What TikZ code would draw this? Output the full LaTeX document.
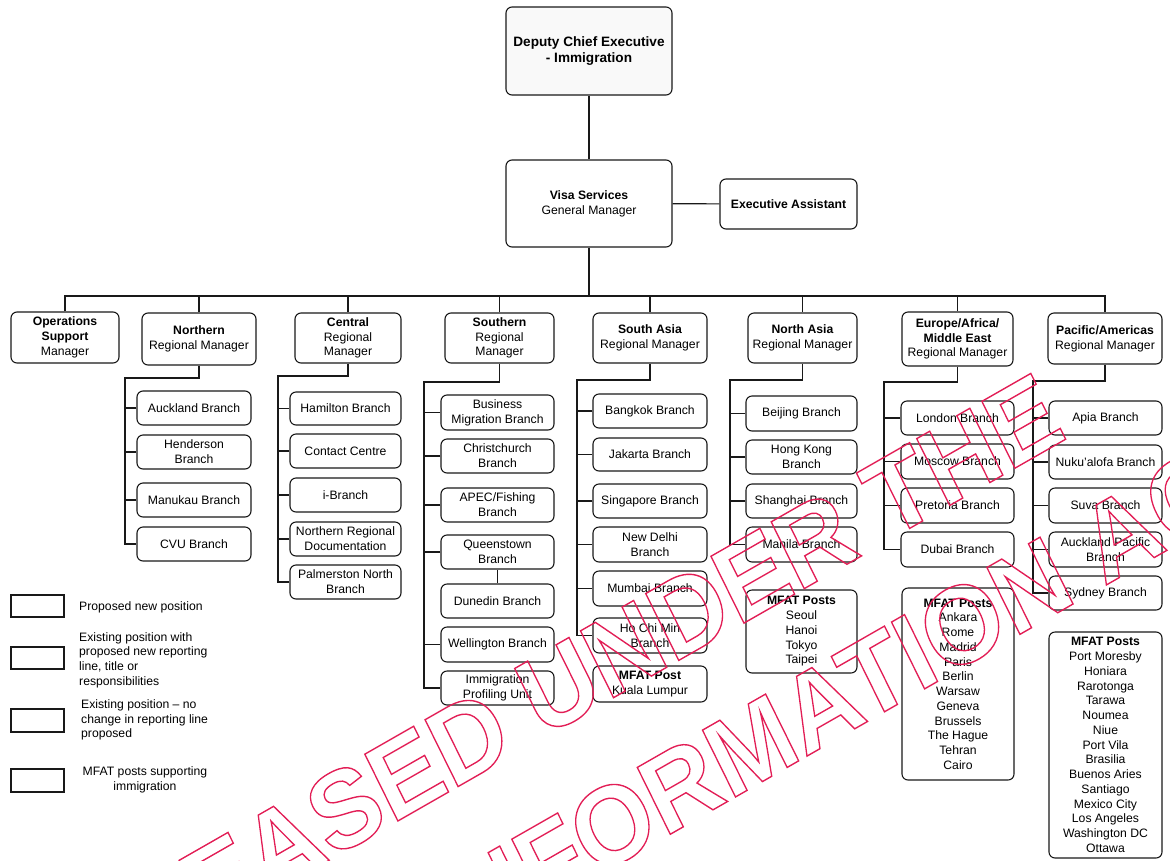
\documentclass[tikz,border=0pt]{standalone}
\usepackage{fontspec}
\setmainfont{Liberation Sans}
\definecolor{ink}{RGB}{25,25,25}
\definecolor{wmred}{RGB}{226,30,86}
\newcommand\boxfont{\fontsize{12.2}{14.75}\selectfont}
\newcommand\topfont{\fontsize{13.6}{16}\selectfont}
\newcommand\wmfont{\fontsize{110}{130}\selectfont\bfseries}
% outlined (stroked, unfilled) text for the stamp
\newcommand\outl[1]{\special{pdf:literal direct 1 Tr 1.4 w}#1\special{pdf:literal direct 0 Tr}}
% org box from its corner coordinates: name, x1, y1, x2, y2, text
\newcommand\orgbox[6]{\node[box, minimum width={#4-#2}, minimum height={#5-#3}] (#1) at ({(#2+#4)/2},{(#3+#5)/2}) {#6};}
\newcommand\legendbox[5]{\node[legbox, minimum width={#4-#2}, minimum height={#5-#3}] (#1) at ({(#2+#4)/2},{(#3+#5)/2}) {};}
\begin{document}
\begin{tikzpicture}[x=1pt,y=-1pt,
  box/.style={draw=ink, line width=1.1pt, rounded corners=6pt, align=center, inner sep=1pt, font=\boxfont, fill=white},
  link/.style={draw=ink, line width=1.1pt},
  legbox/.style={draw=ink, line width=1.1pt, inner sep=0pt},
  legtext/.style={font=\boxfont, inner sep=0pt},
  wmtext/.style={font=\wmfont, text=wmred, inner sep=0pt}]
\useasboundingbox (0,0) rectangle (1170,860);

% ---- top of the structure
\node[box, font=\topfont, fill=gray!5, minimum width=166, minimum height=88] (dce) at (589,51)
  {\textbf{Deputy Chief Executive}\\\textbf{- Immigration}};
\orgbox{vsgm}{506}{160}{672}{247}{\textbf{Visa Services}\\General Manager}
\orgbox{ea}{720}{179}{857}{229}{\textbf{Executive Assistant}}

% ---- regional managers
\orgbox{ops}{11}{312}{119}{363}{\textbf{Operations}\\\textbf{Support}\\Manager}
\orgbox{nrm}{142}{313}{256}{365}{\textbf{Northern}\\Regional Manager}
\orgbox{crm}{295}{313}{401}{363}{\textbf{Central}\\Regional\\Manager}
\orgbox{srm}{445}{313}{554}{363}{\textbf{Southern}\\Regional\\Manager}
\orgbox{sarm}{593}{313}{707}{363}{\textbf{South Asia}\\Regional Manager}
\orgbox{narm}{748}{313}{857}{363}{\textbf{North Asia}\\Regional Manager}
\orgbox{erm}{902}{312}{1013}{366}{\textbf{Europe/Africa/}\\\textbf{Middle East}\\Regional Manager}
\orgbox{prm}{1048}{313}{1162}{364}{\textbf{Pacific/Americas}\\Regional Manager}

% ---- Northern branches
\orgbox{auck}{137}{391}{251}{425}{Auckland Branch}
\orgbox{hend}{137}{435}{251}{469}{Henderson\\Branch}
\orgbox{manu}{137}{483}{251}{517}{Manukau Branch}
\orgbox{cvu}{137}{527}{251}{561}{CVU Branch}

% ---- Central branches
\orgbox{ham}{290}{392}{401}{425}{Hamilton Branch}
\orgbox{cc}{290}{434}{401}{468}{Contact Centre}
\orgbox{ib}{290}{478}{401}{512}{i-Branch}
\orgbox{nrd}{290}{522}{401}{556}{Northern Regional\\Documentation}
\orgbox{pn}{290}{565}{401}{599}{Palmerston North\\Branch}

% ---- Southern branches
\orgbox{bm}{441}{395}{554}{430}{Business\\Migration Branch}
\orgbox{chch}{441}{439}{554}{473}{Christchurch\\Branch}
\orgbox{apec}{441}{488}{554}{522}{APEC/Fishing\\Branch}
\orgbox{qt}{441}{535}{554}{569}{Queenstown\\Branch}
\orgbox{dun}{441}{584}{554}{618}{Dunedin Branch}
\orgbox{wel}{441}{627}{554}{662}{Wellington Branch}
\orgbox{ipu}{441}{671}{554}{705}{Immigration\\Profiling Unit}

% ---- South Asia branches
\orgbox{bkk}{593}{394}{707}{428}{Bangkok Branch}
\orgbox{jkt}{593}{438}{707}{471}{Jakarta Branch}
\orgbox{sin}{593}{484}{707}{518}{Singapore Branch}
\orgbox{ndl}{593}{527}{707}{562}{New Delhi\\Branch}
\orgbox{mum}{593}{571}{707}{606}{Mumbai Branch}
\orgbox{hcm}{593}{618}{707}{653}{Ho Chi Min\\Branch}
\orgbox{kl}{593}{666}{707}{702}{\textbf{MFAT Post}\\Kuala Lumpur}

% ---- North Asia branches
\orgbox{bei}{746}{396}{857}{431}{Beijing Branch}
\orgbox{hk}{746}{440}{857}{474}{Hong Kong\\Branch}
\orgbox{sha}{746}{484}{857}{518}{Shanghai Branch}
\orgbox{man}{746}{527}{857}{562}{Manila Branch}
\orgbox{mfatna}{746}{590}{857}{673}{\textbf{MFAT Posts}\\Seoul\\Hanoi\\Tokyo\\Taipei}

% ---- Europe/Africa/Middle East branches
\orgbox{lon}{901}{401}{1014}{435}{London Branch}
\orgbox{mos}{901}{444}{1014}{479}{Moscow Branch}
\orgbox{pre}{901}{488}{1014}{523}{Pretoria Branch}
\orgbox{dub}{901}{532}{1014}{567}{Dubai Branch}
\orgbox{mfate}{902}{588}{1014}{780}{\textbf{MFAT Posts}\\Ankara\\Rome\\Madrid\\Paris\\Berlin\\Warsaw\\Geneva\\Brussels\\The Hague\\Tehran\\Cairo}

% ---- Pacific/Americas branches
\orgbox{apia}{1049}{401}{1162}{435}{Apia Branch}
\orgbox{nuku}{1049}{445}{1162}{479}{Nuku'alofa Branch}
\orgbox{suva}{1049}{488}{1162}{523}{Suva Branch}
\orgbox{akp}{1049}{532}{1162}{567}{Auckland Pacific\\Branch}
\orgbox{syd}{1049}{576}{1162}{610}{Sydney Branch}
\orgbox{mfatp}{1049}{632}{1162}{858}{\textbf{MFAT Posts}\\Port Moresby\\Honiara\\Rarotonga\\Tarawa\\Noumea\\Niue\\Port Vila\\Brasilia\\Buenos Aries\\Santiago\\Mexico City\\Los Angeles\\Washington DC\\Ottawa}

% ---- reporting lines, top levels
\draw[link] (dce) -- (vsgm);
\draw[link] (vsgm) -- (ea);
\coordinate (bus) at (589,296);
\draw[link] (vsgm) -- (bus);
\draw[link] (ops.north) -- (ops.north |- bus) -- (prm.north |- bus) -- (prm.north);
\foreach \n in {nrm,crm,srm,sarm,narm,erm} \draw[link] (\n.north) -- (\n.north |- bus);

% ---- reporting lines, branches
\coordinate (tn) at (125,378);
\draw[link] (nrm.south) |- (tn) |- (cvu.west);
\foreach \n in {auck,hend,manu} \draw[link] (\n.west) -- (tn |- \n.west);

\coordinate (tc) at (278,376);
\draw[link] (crm.south) |- (tc) |- (pn.west);
\foreach \n in {ham,cc,ib,nrd} \draw[link] (\n.west) -- (tc |- \n.west);

\coordinate (ts) at (424,382);
\draw[link] (srm.south) |- (ts) |- (ipu.west);
\foreach \n in {bm,chch,apec,qt,wel} \draw[link] (\n.west) -- (ts |- \n.west);
\draw[link] (qt) -- (dun);

\coordinate (tsa) at (577,380);
\draw[link] (sarm.south) |- (tsa) |- (hcm.west);
\foreach \n in {bkk,jkt,sin,ndl,mum} \draw[link] (\n.west) -- (tsa |- \n.west);

\coordinate (tna) at (730,380);
\draw[link] (narm.south) |- (tna) |- (man.west);
\foreach \n in {bei,hk,sha} \draw[link] (\n.west) -- (tna |- \n.west);

\coordinate (te) at (884,382);
\draw[link] (erm.south) |- (te) |- (dub.west);
\foreach \n in {lon,mos,pre} \draw[link] (\n.west) -- (te |- \n.west);

\coordinate (tp) at (1033,381);
\draw[link] (prm.south) |- (tp) |- (syd.west);
\foreach \n in {apia,nuku,suva,akp} \draw[link] (\n.west) -- (tp |- \n.west);

% ---- key
\legendbox{k1}{11}{595}{64}{617}
\legendbox{k2}{11}{647}{64}{669}
\legendbox{k3}{11}{709}{64}{732}
\legendbox{k4}{11}{769}{64}{792}
\node[legtext, anchor=west, align=left] (k1t) at (79,607) {Proposed new position};
\node[legtext, anchor=west, align=left] (k2t) at (79,660) {Existing position with\\proposed new reporting\\line, title or\\responsibilities};
\node[legtext, anchor=west, align=left] (k3t) at (81,720) {Existing position -- no\\change in reporting line\\proposed};
\node[legtext, anchor=center, align=center] (k4t) at (145,780) {MFAT posts supporting\\immigration};

% ---- release stamp, slightly narrowed
\begin{scope}[xscale=0.93, transform shape]
  \node[wmtext, rotate=28, anchor=base east] (wm1) at (1150,437) {\outl{RELEASED UNDER THE}};
  \node[wmtext, rotate=28, anchor=base east] (wm2) at (1387,480) {\outl{OFFICIAL INFORMATION ACT}};
\end{scope}
\end{tikzpicture}
\end{document}
